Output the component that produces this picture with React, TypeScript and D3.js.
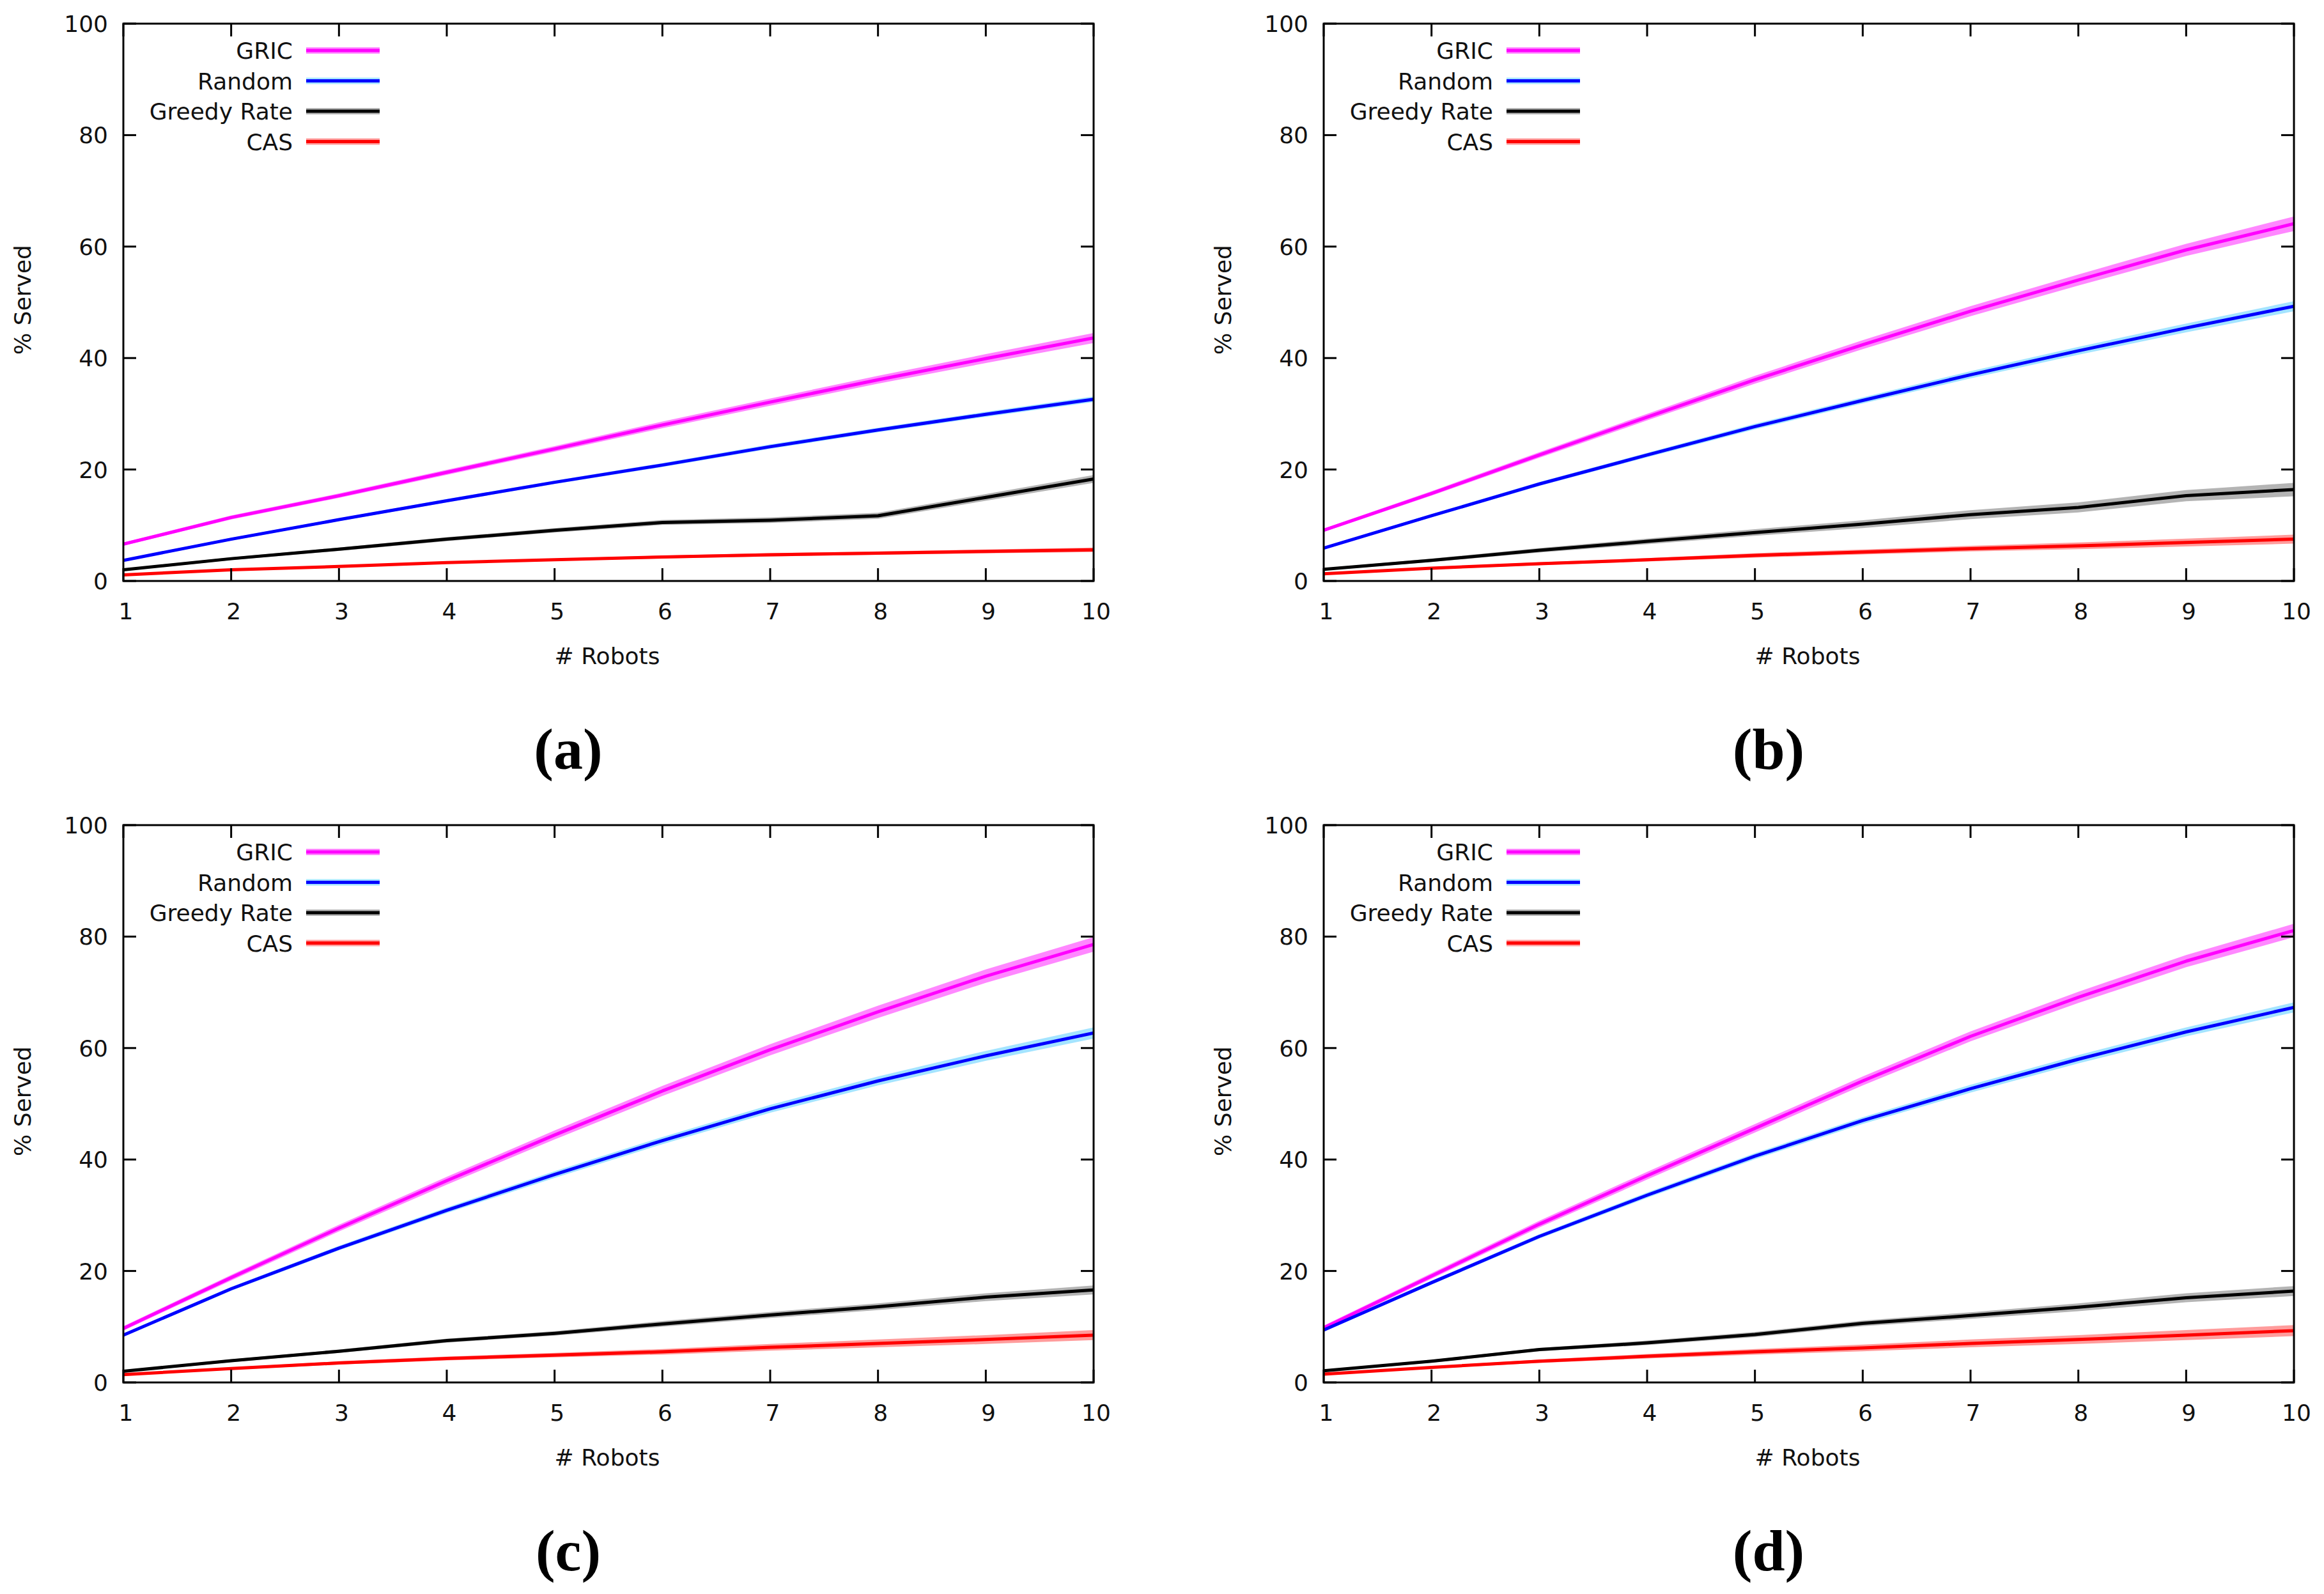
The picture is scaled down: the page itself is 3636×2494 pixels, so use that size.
import React from "react";
import * as d3 from "d3";

const robots = [1, 2, 3, 4, 5, 6, 7, 8, 9, 10];
const yTicks = [0, 20, 40, 60, 80, 100];
const seriesNames = ["GRIC", "Random", "Greedy Rate", "CAS"];
const panelLabels = ["(a)", "(b)", "(c)", "(d)"];

const gricA = [6.6, 11.4, 15.3, 19.5, 23.7, 28.0, 32.1, 36.1, 39.9, 43.6];
const randomA = [3.7, 7.5, 11.0, 14.4, 17.7, 20.8, 24.1, 27.1, 29.9, 32.6];
const greedyA = [2.0, 4.0, 5.7, 7.5, 9.1, 10.5, 10.9, 11.7, 15.0, 18.3];
const casA = [1.1, 2.0, 2.6, 3.3, 3.8, 4.3, 4.7, 5.0, 5.3, 5.6];

const gricB = [9.1, 15.7, 22.6, 29.4, 36.1, 42.4, 48.4, 54.0, 59.4, 64.1];
const randomB = [5.9, 11.7, 17.4, 22.6, 27.7, 32.4, 37.0, 41.3, 45.4, 49.3];
const greedyB = [2.1, 3.7, 5.5, 7.1, 8.7, 10.2, 11.9, 13.2, 15.3, 16.4];
const casB = [1.3, 2.3, 3.1, 3.8, 4.6, 5.2, 5.8, 6.3, 6.9, 7.5];

const gricC = [9.7, 18.8, 27.7, 36.2, 44.4, 52.3, 59.7, 66.5, 72.9, 78.6];
const randomC = [8.5, 16.8, 24.1, 30.9, 37.3, 43.4, 49.1, 54.1, 58.6, 62.7];
const greedyC = [2.0, 3.9, 5.6, 7.5, 8.8, 10.5, 12.1, 13.6, 15.3, 16.6];
const casC = [1.4, 2.5, 3.5, 4.3, 4.9, 5.5, 6.3, 7.0, 7.7, 8.5];

const gricD = [9.8, 19.1, 28.4, 37.1, 45.6, 54.1, 62.1, 69.1, 75.6, 81.1];
const randomD = [9.4, 17.9, 26.2, 33.6, 40.6, 47.0, 52.7, 58.0, 62.9, 67.3];
const greedyD = [2.1, 3.8, 5.9, 7.1, 8.6, 10.6, 12.0, 13.5, 15.2, 16.4];
const casD = [1.5, 2.7, 3.8, 4.7, 5.5, 6.2, 7.0, 7.7, 8.5, 9.3];

// half-width of the shaded confidence band
const errGricA = [0.3, 0.35, 0.4, 0.45, 0.5, 0.6, 0.65, 0.7, 0.8, 0.9];
const errRandomA = [0.2, 0.25, 0.25, 0.3, 0.3, 0.35, 0.4, 0.4, 0.45, 0.5];
const errGreedyA = [0.2, 0.25, 0.3, 0.35, 0.4, 0.45, 0.5, 0.55, 0.6, 0.7];
const errCasA = [0.1, 0.15, 0.15, 0.2, 0.2, 0.25, 0.3, 0.3, 0.35, 0.4];

const errGricB = [0.3, 0.4, 0.5, 0.6, 0.7, 0.8, 0.9, 1.0, 1.1, 1.3];
const errRandomB = [0.2, 0.3, 0.35, 0.4, 0.5, 0.55, 0.65, 0.7, 0.8, 0.9];
const errGreedyB = [0.2, 0.3, 0.4, 0.5, 0.6, 0.7, 0.8, 0.9, 1.0, 1.2];
const errCasB = [0.1, 0.2, 0.25, 0.3, 0.4, 0.45, 0.5, 0.6, 0.7, 0.8];

const errGricC = [0.4, 0.5, 0.6, 0.7, 0.8, 0.9, 1.0, 1.1, 1.2, 1.3];
const errRandomC = [0.3, 0.35, 0.4, 0.5, 0.6, 0.65, 0.7, 0.8, 0.9, 1.0];
const errGreedyC = [0.2, 0.25, 0.3, 0.35, 0.4, 0.5, 0.55, 0.6, 0.7, 0.8];
const errCasC = [0.1, 0.2, 0.3, 0.35, 0.4, 0.5, 0.6, 0.7, 0.8, 0.9];

const errGricD = [0.4, 0.5, 0.6, 0.7, 0.75, 0.8, 0.9, 1.0, 1.1, 1.2];
const errRandomD = [0.3, 0.35, 0.4, 0.5, 0.55, 0.6, 0.7, 0.75, 0.8, 0.9];
const errGreedyD = [0.2, 0.25, 0.3, 0.4, 0.45, 0.5, 0.6, 0.7, 0.8, 0.9];
const errCasD = [0.1, 0.2, 0.3, 0.4, 0.5, 0.6, 0.7, 0.8, 0.9, 1.0];

const lineColors = ["#ff00ff", "#0000ff", "#000000", "#ff0000"];
const bandColors = ["#ff88ff", "#a4e4ff", "#b4b4b4", "#ff9c9c"];

const panels = [
  { values: [gricA, randomA, greedyA, casA], errs: [errGricA, errRandomA, errGreedyA, errCasA] },
  { values: [gricB, randomB, greedyB, casB], errs: [errGricB, errRandomB, errGreedyB, errCasB] },
  { values: [gricC, randomC, greedyC, casC], errs: [errGricC, errRandomC, errGreedyC, errCasC] },
  { values: [gricD, randomD, greedyD, casD], errs: [errGricD, errRandomD, errGreedyD, errCasD] },
];

const W = 3636;
const H = 2494;
const PW = 1518;
const PH = 872;
const origins = [
  [193, 37],
  [2071, 37],
  [193, 1291],
  [2071, 1291],
];
const labelCenters = [889, 2767, 889, 2767];
const FONT = "'DejaVu Sans', Verdana, sans-serif";

function Panel({ idx }: { idx: number }) {
  const [ox, oy] = origins[idx];
  const p = panels[idx];
  const x = d3.scaleLinear().domain([1, 10]).range([0, PW]);
  const y = d3.scaleLinear().domain([0, 100]).range([PH, 0]);
  const line = d3
    .line<number>()
    .x((_, i) => x(robots[i]))
    .y((d) => y(d));
  const tick = 20;
  return (
    <g transform={`translate(${ox},${oy})`}>
      <defs>
        <clipPath id={`clip${idx}`}>
          <rect x={0} y={0} width={PW} height={PH} />
        </clipPath>
      </defs>
      <g clipPath={`url(#clip${idx})`}>
        {p.values.map((vals, s) => {
          const area = d3
            .area<number>()
            .x((_, i) => x(robots[i]))
            .y0((d, i) => y(d - p.errs[s][i]))
            .y1((d, i) => y(d + p.errs[s][i]));
          return (
            <path key={"b" + s} d={area(vals) || ""} fill={bandColors[s]} stroke="none" />
          );
        })}
        {p.values.map((vals, s) => (
          <path
            key={"l" + s}
            d={line(vals) || ""}
            fill="none"
            stroke={lineColors[s]}
            strokeWidth={5}
            strokeLinejoin="round"
          />
        ))}
      </g>
      {/* ticks */}
      {robots.map((r) => (
        <g key={"xt" + r}>
          <line x1={x(r)} x2={x(r)} y1={PH} y2={PH - tick} stroke="#000" strokeWidth={3} />
          <line x1={x(r)} x2={x(r)} y1={0} y2={tick} stroke="#000" strokeWidth={3} />
          <text
            x={x(r) + 4}
            y={PH + 60}
            textAnchor="middle"
            fontFamily={FONT}
            fontSize={36}
            fill="#111"
          >
            {r}
          </text>
        </g>
      ))}
      {yTicks.map((t) => (
        <g key={"yt" + t}>
          <line x1={0} x2={tick} y1={y(t)} y2={y(t)} stroke="#000" strokeWidth={3} />
          <line x1={PW} x2={PW - tick} y1={y(t)} y2={y(t)} stroke="#000" strokeWidth={3} />
          <text
            x={-24}
            y={y(t) + 13}
            textAnchor="end"
            fontFamily={FONT}
            fontSize={36}
            fill="#111"
          >
            {t}
          </text>
        </g>
      ))}
      <rect x={0} y={0} width={PW} height={PH} fill="none" stroke="#000" strokeWidth={3} />
      {/* axis labels */}
      <text
        x={x(5.5) - 2}
        y={PH + 130}
        textAnchor="middle"
        fontFamily={FONT}
        fontSize={36}
        fill="#111"
      >
        # Robots
      </text>
      <text
        transform={`translate(${-158},${PH / 2 - 4}) rotate(-90)`}
        textAnchor="middle"
        dominantBaseline="central"
        fontFamily={FONT}
        fontSize={36}
        fill="#111"
      >
        % Served
      </text>
      {/* legend */}
      {seriesNames.map((name, s) => {
        const ly = 42 + s * 47.5;
        return (
          <g key={"lg" + s}>
            <text
              x={265}
              y={ly + 13}
              textAnchor="end"
              fontFamily={FONT}
              fontSize={36}
              fill="#111"
            >
              {name}
            </text>
            <line x1={286} x2={401} y1={ly} y2={ly} stroke={bandColors[s]} strokeWidth={10} />
            <line x1={286} x2={401} y1={ly} y2={ly} stroke={lineColors[s]} strokeWidth={5} />
          </g>
        );
      })}
    </g>
  );
}

export default function App() {
  return (
    <div style={{ position: "absolute", left: 0, top: 0, width: W, height: H, background: "#fff" }}>
      <svg width={W} height={H} viewBox={`0 0 ${W} ${H}`} style={{ display: "block" }}>
        <rect x={0} y={0} width={W} height={H} fill="#fff" />
        {panels.map((_, i) => (
          <Panel key={i} idx={i} />
        ))}
        {panelLabels.map((lab, i) => (
          <text
            key={lab}
            x={labelCenters[i]}
            y={origins[i][1] + 1166}
            textAnchor="middle"
            fontFamily="'Liberation Serif', 'Times New Roman', serif"
            fontWeight="bold"
            fontSize={92}
            fill="#000"
          >
            {lab}
          </text>
        ))}
      </svg>
    </div>
  );
}
